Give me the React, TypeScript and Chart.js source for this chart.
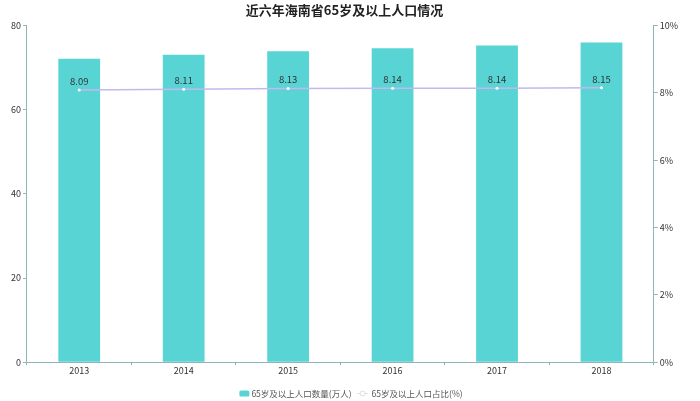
import React, { useEffect, useRef } from "react";
import { Chart, registerables } from "chart.js";

Chart.register(...registerables);

const categories = ["2013", "2014", "2015", "2016", "2017", "2018"];
const populationValues = [72.1, 73.1, 73.9, 74.6, 75.3, 76.0];
const ratioValues = [8.09, 8.11, 8.13, 8.14, 8.14, 8.15];
const leftTicks = [0, 20, 40, 60, 80];
const rightTicks = [0, 2, 4, 6, 8, 10];
const titleText = "近六年海南省65岁及以上人口情况";
const barLabel = "65岁及以上人口数量(万人)";
const lineLabel = "65岁及以上人口占比(%)";

const FONT = "'Noto Sans CJK SC', 'Noto Sans', sans-serif";
const AXIS = "#8fb5b5";
const BAR = "#58d4d4";
const LINE = "#c4b8ec";

const labelPlugin = {
  id: "lineLabels",
  afterDatasetsDraw(chart: any) {
    const ctx = chart.ctx;
    const meta = chart.getDatasetMeta(1);
    ctx.save();
    ctx.font = `9.5px ${FONT}`;
    ctx.fillStyle = "#333";
    ctx.textAlign = "center";
    ctx.textBaseline = "bottom";
    meta.data.forEach((pt: any, i: number) => {
      ctx.fillText(ratioValues[i].toFixed(2), pt.x, pt.y - 4);
    });
    ctx.restore();
  },
};

const legendPlugin = {
  id: "customLegend",
  afterDraw(chart: any) {
    const ctx = chart.ctx;
    const y = 393.5;
    ctx.save();
    ctx.font = `8.5px ${FONT}`;
    ctx.textBaseline = "middle";
    ctx.textAlign = "left";
    const w1 = ctx.measureText(barLabel).width;
    const w2 = ctx.measureText(lineLabel).width;
    const total = 12 + w1 + 6 + 14 + w2;
    let x = chart.width / 2 - total / 2 + 1;
    ctx.fillStyle = BAR;
    ctx.beginPath();
    (ctx as any).roundRect ? ctx.roundRect(x, y - 3, 10, 6, 1.5) : ctx.rect(x, y - 3, 10, 6);
    ctx.fill();
    x += 12;
    ctx.fillStyle = "#555";
    ctx.fillText(barLabel, x, y);
    x += w1 + 6;
    ctx.strokeStyle = "#dcdce6";
    ctx.lineWidth = 1;
    ctx.beginPath();
    ctx.moveTo(x, y);
    ctx.lineTo(x + 10, y);
    ctx.stroke();
    ctx.fillStyle = "#fff";
    ctx.beginPath();
    ctx.arc(x + 5, y, 2.5, 0, Math.PI * 2);
    ctx.fill();
    ctx.stroke();
    x += 14;
    ctx.fillStyle = "#555";
    ctx.fillText(lineLabel, x, y);
    ctx.restore();
  },
};

export default function App() {
  const ref = useRef<HTMLCanvasElement>(null);
  useEffect(() => {
    document.body.style.margin = "0";
    const chart = new Chart(ref.current!, {
      type: "bar",
      data: {
        labels: categories,
        datasets: [
          {
            type: "bar",
            label: barLabel,
            data: populationValues,
            backgroundColor: BAR,
            yAxisID: "y",
            barPercentage: 0.4,
            categoryPercentage: 1,
            order: 2,
          },
          {
            type: "line",
            label: lineLabel,
            data: ratioValues,
            borderColor: LINE,
            borderWidth: 1.5,
            pointRadius: 1.5,
            pointBackgroundColor: "#ffffff",
            pointBorderColor: "#ffffff",
            pointBorderWidth: 0,
            yAxisID: "y1",
            order: 1,
          } as any,
        ],
      },
      options: {
        animation: false,
        responsive: false,
        layout: { padding: { left: 9, right: 20, top: 0, bottom: 25 } },
        plugins: {
          title: {
            display: true,
            text: titleText,
            font: { family: FONT, size: 13, weight: "bold" },
            color: "#222",
            padding: { top: 2, bottom: 8 },
          },
          legend: { display: false },
          tooltip: { enabled: false },
        },
        scales: {
          x: {
            grid: { drawOnChartArea: false, color: AXIS, tickLength: 3 },
            border: { color: AXIS },
            ticks: { font: { family: FONT, size: 9 }, color: "#333", padding: 0 },
          },
          y: {
            position: "left",
            min: 0,
            max: 80,
            afterBuildTicks: (s: any) => {
              s.ticks = leftTicks.map((v) => ({ value: v }));
            },
            grid: { drawOnChartArea: false, color: AXIS, tickLength: 4 },
            border: { color: AXIS },
            ticks: { font: { family: FONT, size: 9 }, color: "#333", padding: 2 },
          },
          y1: {
            position: "right",
            min: 0,
            max: 10,
            afterBuildTicks: (s: any) => {
              s.ticks = rightTicks.map((v) => ({ value: v }));
            },
            grid: { drawOnChartArea: false, color: AXIS, tickLength: 4 },
            border: { color: AXIS },
            ticks: {
              font: { family: FONT, size: 9 },
              color: "#333",
              padding: 2,
              callback: (v: any) => `${v}%`,
            },
          },
        },
      },
      plugins: [labelPlugin, legendPlugin],
    });
    return () => chart.destroy();
  }, []);
  return (
    <div style={{ width: 700, height: 401 }}>
      <canvas ref={ref} width={700} height={401} />
    </div>
  );
}
